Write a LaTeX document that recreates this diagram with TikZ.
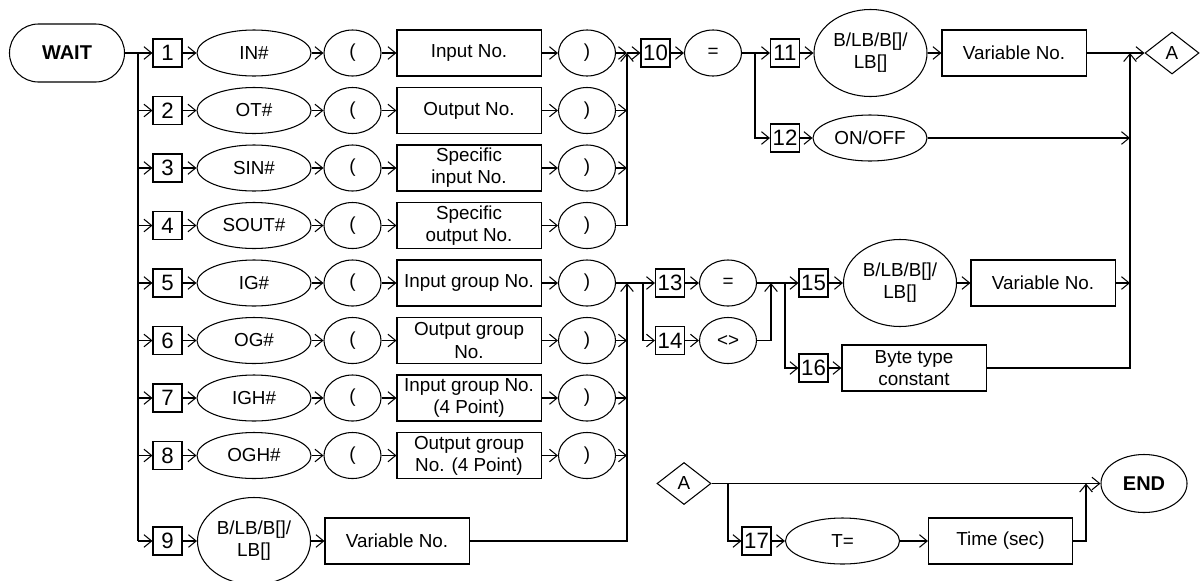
\documentclass[tikz,border=0pt]{standalone}
\usepackage{fontspec}
\setmainfont{Liberation Sans}
\usetikzlibrary{shapes.geometric,arrows.meta}
\begin{document}
\begin{tikzpicture}[x=0.025cm,y=-0.025cm,
  every path/.style={line width=0.75pt},
  >={Straight Barb[length=5.5pt,width=9pt]},
  txt/.style={font=\fontsize{13.4}{15.8}\selectfont,align=center},
  numbox/.style={draw,rectangle,inner sep=0pt,minimum width=0.725cm,minimum height=0.7cm,font=\fontsize{15.8}{17}\selectfont},
  kw/.style={draw,ellipse,inner sep=0pt,minimum width=2.85cm,minimum height=1.15cm,txt},
  par/.style={draw,ellipse,inner sep=0pt,minimum width=1.425cm,minimum height=1.15cm,txt},
  valbox/.style={draw,rectangle,inner sep=0pt,minimum width=3.6cm,minimum height=1.15cm,txt},
  bigell/.style={draw,ellipse,inner sep=0pt,minimum width=2.825cm,minimum height=2.175cm,txt},
  conn/.style={draw,diamond,inner sep=0pt,minimum width=1.35cm,minimum height=1.05cm,txt},
  term/.style={draw,font=\fontsize{14.2}{16}\selectfont\bfseries}
]
\useasboundingbox (0,0) rectangle (1200,580);

% start
\node[term,rectangle,rounded corners=0.725cm,minimum width=2.875cm,minimum height=1.45cm,inner sep=0pt] (wait) at (67,53) {WAIT};

% rows 1-8
\foreach \i/\y/\kwt/\valt in {
  1/53/IN\#/Input No.,
  2/110.5/OT\#/Output No.,
  3/168/SIN\#/{Specific\\input No.},
  4/225.5/SOUT\#/{Specific\\output No.},
  5/283/IG\#/Input group No.,
  6/340.5/OG\#/{Output group\\No.},
  7/398/IGH\#/{Input group No.\\(4 Point)},
  8/455.5/OGH\#/{Output group\\No. (4 Point)}} {
  \node[numbox] (n\i) at (167.5,\y) {\i};
  \node[kw] (k\i) at (254,\y) {\kwt};
  \node[par] (o\i) at (352.5,\y) {(};
  \node[valbox] (v\i) at (469,\y) {\valt};
  \node[par] (p\i) at (587,\y) {)};
  \draw[->] (n\i) -- (k\i);
  \draw[->] (k\i) -- (o\i);
  \draw[->] (o\i) -- (v\i);
  \draw[->] (v\i) -- (p\i);
}
% row 9
\node[numbox] (n9) at (167.5,541) {9};
\node[bigell] (k9) at (254,541) {B/LB/B[]/\\LB[]};
\node[valbox] (v9) at (397,541) {Variable No.};
\draw[->] (n9) -- (k9);
\draw[->] (k9) -- (v9);

% trunk from WAIT
\coordinate (j0) at (138,53);
\draw (wait.east) -- (j0);
\draw (j0) -- (j0 |- n9.west);
\foreach \i in {1,...,9} { \draw[->] (j0 |- n\i.west) -- (n\i.west); }

% collector rows 1-4
\coordinate (c1) at (627,53);
\draw[->] (p1.east) -- (c1);
\draw[->] (p4.east) -| (c1);
\draw[->] (p2.east) -- (c1 |- p2.east);
\draw[->] (p3.east) -- (c1 |- p3.east);

% upper right branch
\node[numbox] (n10) at (655.5,53) {10};
\node[par] (eq10) at (713,53) {=};
\node[numbox] (n11) at (785,53) {11};
\node[bigell] (k11) at (870.5,53) {B/LB/B[]/\\LB[]};
\node[valbox] (v11) at (1014,53) {Variable No.};
\node[conn] (a1) at (1172,53) {A};
\node[numbox] (n12) at (785,138) {12};
\node[kw] (k12) at (870,138) {ON/OFF};
\draw[->] (c1) -- (n10);
\draw[->] (n10) -- (eq10);
\draw[->] (eq10) -- (n11);
\coordinate (s1) at (755,53);
\draw[->] (s1) |- (n12.west);
\draw[->] (n11) -- (k11);
\draw[->] (k11) -- (v11);
\draw[->] (n12) -- (k12);
\coordinate (c3) at (1130,53);
\draw[->] (v11.east) -- (a1.west);

% collector rows 5-9
\coordinate (c2) at (627,283);
\draw[->] (v9.east) -| (c2);
\foreach \i in {6,7,8} { \draw[->] (p\i.east) -- (c2 |- p\i.east); }
\node[numbox] (n13) at (670,283) {13};
\node[par] (eq13) at (728,283) {=};
\node[numbox] (n14) at (670,340.5) {14};
\node[par] (ne14) at (728,340.5) {<>};
\draw[->] (p5.east) -- (n13.west);
\coordinate (s2) at (643,283);
\draw[->] (s2) |- (n14.west);
\draw[->] (n13) -- (eq13);
\draw[->] (n14) -- (ne14);
\coordinate (c4) at (771,283);
\draw[->] (ne14.east) -| (c4);
\node[numbox] (n15) at (813.5,283) {15};
\node[bigell] (k15) at (900,283) {B/LB/B[]/\\LB[]};
\node[valbox] (v15) at (1043,283) {Variable No.};
\node[numbox] (n16) at (813.5,368) {16};
\node[valbox] (byte) at (914,368) {Byte type\\constant};
\draw[->] (eq13.east) -- (n15.west);
\coordinate (s3) at (785,283);
\draw[->] (s3) |- (n16.west);
\draw[->] (n15) -- (k15);
\draw[->] (k15) -- (v15);
\draw[->] (n16) -- (byte);

% right collector to A
\draw[->] (byte.east) -| (c3);
\draw[->] (k12.east) -- (c3 |- k12.east);
\draw[->] (v15.east) -- (c3 |- v15.east);

% bottom: A to END
\node[conn] (a2) at (684,483.5) {A};
\node[term,ellipse,inner sep=0pt,minimum width=2.15cm,minimum height=1.45cm] (end) at (1144,483.5) {END};
\node[numbox] (n17) at (756.5,541) {17};
\node[kw] (k17) at (842.5,541) {T=};
\node[valbox] (time) at (1000.5,541) {Time (sec)};
\draw[->] (a2.east) -- (end.west);
\coordinate (s4) at (728,483.5);
\draw[->] (s4) |- (n17.west);
\draw[->] (n17) -- (k17);
\draw[->] (k17) -- (time);
\coordinate (c5) at (1086,483.5);
\draw[->] (time.east) -| (c5);
\end{tikzpicture}
\end{document}
